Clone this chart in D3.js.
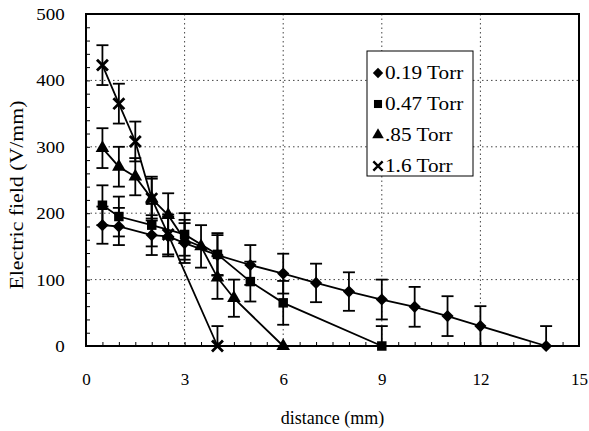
<!DOCTYPE html>
<html>
<head>
<meta charset="utf-8">
<script src="https://cdn.jsdelivr.net/npm/d3@7"></script>
<style>
body { margin: 0; background: #fff; }
.grid line { stroke: #444; stroke-dasharray: 1.5,3; }
.series path.line { fill: none; stroke: #000; stroke-width: 1.8; }
.err { stroke: #000; stroke-width: 1.8; }
</style>
</head>
<body>
<div id="chart_wrapper"></div>
<script>
var width = 589, height = 431,
    margin = { left: 86, right: 10, top: 14, bottom: 85 };
var serif = "'Liberation Serif', 'Times New Roman', serif";

var xTicks = [0, 3, 6, 9, 12, 15];
var yTicks = [0, 100, 200, 300, 400, 500];
var seriesNames = ["0.19 Torr", "0.47 Torr", ".85 Torr", "1.6 Torr"];

// 0.19 Torr (diamonds)
var d019x = [0.5, 1, 2, 2.5, 3, 4, 5, 6, 7, 8, 9, 10, 11, 12, 14];
var d019y = [182, 180, 167, 165, 155, 137, 122, 109, 95, 82, 70, 59, 45, 30, 0];
var d019e = [28, 28, 30, 30, 30, 30, 30, 30, 29, 29, 30, 30, 30, 30, 30];
// 0.47 Torr (squares)
var d047x = [0.5, 1, 2, 3, 4, 5, 6, 9];
var d047y = [212, 195, 182, 168, 138, 97, 65, 0];
var d047e = [30, 30, 32, 32, 32, 30, 33, 30];
// .85 Torr (triangles)
var d085x = [0.5, 1, 1.5, 2, 2.5, 3, 3.5, 4, 4.5, 6];
var d085y = [298, 270, 255, 222, 197, 160, 150, 103, 72, 0];
var d085e = [30, 30, 28, 30, 33, 30, 32, 32, 28, 0];
// 1.6 Torr (crosses)
var d16x = [0.5, 1, 1.5, 2, 2.5, 4];
var d16y = [423, 365, 308, 222, 168, 0];
var d16e = [30, 30, 30, 33, 30, 30];

var series = [
    { name: seriesNames[0], sym: "diamond", xs: d019x, ys: d019y, es: d019e },
    { name: seriesNames[1], sym: "square", xs: d047x, ys: d047y, es: d047e },
    { name: seriesNames[2], sym: "triangle", xs: d085x, ys: d085y, es: d085e },
    { name: seriesNames[3], sym: "cross", xs: d16x, ys: d16y, es: d16e }
];

var w = width - margin.left - margin.right,
    h = height - margin.top - margin.bottom;

var svg = d3.select("#chart_wrapper").append("svg").attr("width", width).attr("height", height);
var g = svg.append("g").attr("transform", "translate(" + margin.left + "," + margin.top + ")");

var x = d3.scaleLinear().domain([0, 15]).range([0, w]);
var y = d3.scaleLinear().domain([0, 500]).range([h, 0]);

// grid
var grid = g.append("g").attr("class", "grid");
grid.selectAll(".gx").data(xTicks.slice(1, -1)).enter().append("line")
    .attr("x1", d => x(d)).attr("x2", d => x(d)).attr("y1", 0).attr("y2", h);
grid.selectAll(".gy").data(yTicks.slice(1, -1)).enter().append("line")
    .attr("y1", d => y(d)).attr("y2", d => y(d)).attr("x1", 0).attr("x2", w);

// minor inward ticks
g.append("g").call(d3.axisRight(y).tickValues(d3.range(20, 500, 20)).tickSize(4).tickFormat(""))
    .call(s => s.select(".domain").remove());
g.append("g").attr("transform", "translate(0," + h + ")")
    .call(d3.axisTop(x).tickValues(d3.range(0.5, 15, 0.5)).tickSize(4).tickFormat(""))
    .call(s => s.select(".domain").remove());

// axis labels
var yAxis = g.append("g").call(d3.axisLeft(y).tickValues(yTicks).tickSize(0).tickPadding(19));
yAxis.select(".domain").remove();
yAxis.attr("font-family", serif).attr("font-size", 17);
yAxis.selectAll("text").style("font-family", serif).style("font-size", "17px").attr("transform", "scale(1.12,1)");
var xAxis = g.append("g").attr("transform", "translate(0," + h + ")")
    .call(d3.axisBottom(x).tickValues(xTicks).tickSize(0).tickPadding(27));
xAxis.select(".domain").remove();
xAxis.attr("font-family", serif).attr("font-size", 17);
xAxis.selectAll("text").style("font-family", serif).style("font-size", "17px");

// frame
g.append("rect").attr("width", w).attr("height", h)
    .attr("fill", "none").attr("stroke", "#000").attr("stroke-width", 2);

function symPath(sym) {
    if (sym == "diamond") return d3.symbol(d3.symbolDiamond2, 95)();
    if (sym == "square") return d3.symbol(d3.symbolSquare, 90)();
    if (sym == "triangle") return d3.symbol(d3.symbolTriangle, 80)();
    return d3.symbol(d3.symbolX, 80)();
}
function symStyle(sel, sym) {
    if (sym == "cross") sel.attr("fill", "none").attr("stroke", "#000").attr("stroke-width", 2.8);
    else sel.attr("fill", "#000").attr("stroke", "none");
}

var line = d3.line().x(d => x(d.x)).y(d => y(d.y));

series.forEach(function(s) {
    var pts = s.xs.map((v, i) => ({ x: v, y: s.ys[i], e: s.es[i] }));
    var sg = g.append("g").attr("class", "series");
    sg.append("path").attr("class", "line").attr("d", line(pts));
    var eb = sg.selectAll(".eb").data(pts.filter(d => d.e > 0)).enter().append("g");
    eb.append("line").attr("class", "err")
        .attr("x1", d => x(d.x)).attr("x2", d => x(d.x))
        .attr("y1", d => y(d.y + d.e)).attr("y2", d => y(Math.max(0, d.y - d.e)));
    eb.append("line").attr("class", "err")
        .attr("x1", d => x(d.x) - 6).attr("x2", d => x(d.x) + 6)
        .attr("y1", d => y(d.y + d.e)).attr("y2", d => y(d.y + d.e));
    eb.filter(d => d.y - d.e > 0).append("line").attr("class", "err")
        .attr("x1", d => x(d.x) - 6).attr("x2", d => x(d.x) + 6)
        .attr("y1", d => y(d.y - d.e)).attr("y2", d => y(d.y - d.e));
    sg.selectAll(".pt").data(pts).enter().append("path")
        .attr("transform", d => "translate(" + x(d.x) + "," + y(d.y) + ")")
        .attr("d", symPath(s.sym))
        .call(symStyle, s.sym);
});

// legend
var lg = svg.append("g").attr("transform", "translate(367,51)");
lg.append("rect").attr("width", 106).attr("height", 125)
    .attr("fill", "#fff").attr("stroke", "#000").attr("stroke-width", 1);
series.forEach(function(s, i) {
    var yy = 22 + i * 31;
    lg.append("path").attr("transform", "translate(11," + yy + ") scale(0.85)")
        .attr("d", symPath(s.sym)).call(symStyle, s.sym);
    lg.append("text").attr("transform", "translate(18," + yy + ") scale(1.18,1)")
        .attr("dy", "0.35em").style("font-family", serif).style("font-size", "18px")
        .text(s.name);
});

// titles
svg.append("text").attr("transform", "translate(23,195) rotate(-90) scale(1.12,1)")
    .attr("text-anchor", "middle").style("font-family", serif).style("font-size", "19.5px")
    .text("Electric field (V/mm)");
svg.append("text").attr("x", margin.left + w / 2).attr("y", 424)
    .attr("text-anchor", "middle").style("font-family", serif).style("font-size", "18px")
    .text("distance (mm)");
</script>
</body>
</html>
